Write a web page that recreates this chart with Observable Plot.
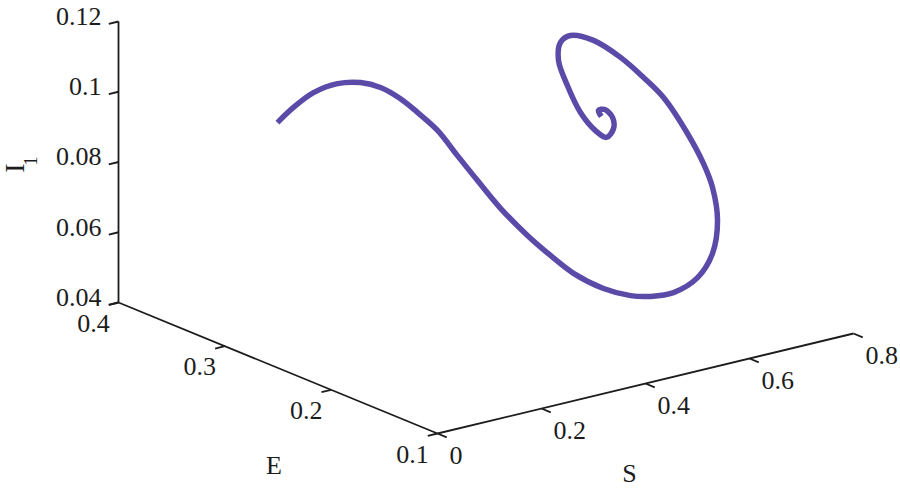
<!DOCTYPE html>
<html><head><meta charset="utf-8">
<script src="https://cdn.jsdelivr.net/npm/d3@7"></script>
<script src="https://cdn.jsdelivr.net/npm/@observablehq/plot@0.6"></script>
<style>body{margin:0;background:#fff}#chart svg{display:block}</style>
</head><body><div id="chart"></div>
<script>
// trajectory (S, E, I1)
const S  = [0.2035,0.2138,0.2319,0.2575,0.2813,0.2994,0.3173,0.3296,0.3477,0.3656,0.3837,0.4075,0.4388,0.4627,0.4865,0.5237,0.5552,0.5835,0.6175,0.6637,0.6925,0.7123,0.7129,0.7058,0.6852,0.6596,0.6313,0.5973,0.5556,0.5215,0.5065,0.5027,0.5158,0.5367,0.5594,0.5744,0.5879,0.5881,0.5746,0.5631,0.5688];
const E  = [0.35,0.34,0.33,0.32,0.31,0.30,0.29,0.28,0.27,0.26,0.25,0.24,0.23,0.22,0.21,0.20,0.19,0.185,0.18,0.18,0.18,0.185,0.19,0.195,0.20,0.21,0.215,0.22,0.225,0.23,0.232,0.232,0.23,0.228,0.225,0.222,0.222,0.223,0.224,0.224,0.224];
const I1 = [0.0902,0.0954,0.1002,0.1031,0.1038,0.1030,0.1004,0.0973,0.0928,0.0862,0.0797,0.0722,0.0646,0.0593,0.0546,0.0502,0.0483,0.0477,0.0482,0.0508,0.0567,0.0647,0.0735,0.0799,0.0886,0.0985,0.1046,0.1109,0.1166,0.1186,0.1169,0.1119,0.1045,0.0964,0.0908,0.0887,0.0907,0.0938,0.0964,0.0965,0.0946];

const sTicks = [0, 0.2, 0.4, 0.6, 0.8];
const sTickLabels = ["0", "0.2", "0.4", "0.6", "0.8"];
const eTicks = [0.1, 0.2, 0.3, 0.4];
const eTickLabels = ["0.1", "0.2", "0.3", "0.4"];
const iTicks = [0.04, 0.06, 0.08, 0.1, 0.12];
const iTickLabels = ["0.04", "0.06", "0.08", "0.1", "0.12"];
const sDom = [0, 0.8], eDom = [0.1, 0.4], iDom = [0.04, 0.12];

// 3-D view: screen position of the box corner and of each axis span
const origin = [437, 433];
const sVec = [416, -100], eVec = [-319, -131], iVec = [0, -281];
function proj(s, e, i) {
  const a = (s - sDom[0]) / (sDom[1] - sDom[0]);
  const b = (e - eDom[0]) / (eDom[1] - eDom[0]);
  const c = (i - iDom[0]) / (iDom[1] - iDom[0]);
  return [origin[0] + a*sVec[0] + b*eVec[0] + c*iVec[0],
          origin[1] + a*sVec[1] + b*eVec[1] + c*iVec[1]];
}
const TL = 10;
const nS = Math.hypot(sVec[0], sVec[1]), nE = Math.hypot(eVec[0], eVec[1]);
const tickOutS = [-sVec[0]/nS*TL, -sVec[1]/nS*TL]; // for E and I ticks
const tickOutE = [-eVec[0]/nE*TL, -eVec[1]/nE*TL]; // for S ticks

const traj = S.map((s, k) => ({s, e: E[k], i: I1[k]}));
const axes = [
  {a: [sDom[0], eDom[0], iDom[0]], b: [sDom[1], eDom[0], iDom[0]]},
  {a: [sDom[0], eDom[0], iDom[0]], b: [sDom[0], eDom[1], iDom[0]]},
  {a: [sDom[0], eDom[1], iDom[0]], b: [sDom[0], eDom[1], iDom[1]]}
];
const ticks = [
  ...sTicks.map((v, k) => ({p: proj(v, eDom[0], iDom[0]), o: tickOutE, label: sTickLabels[k], axis: "S"})),
  ...eTicks.map((v, k) => ({p: proj(sDom[0], v, iDom[0]), o: tickOutS, label: eTickLabels[k], axis: "E"})),
  ...iTicks.map((v, k) => ({p: proj(sDom[0], eDom[1], v), o: tickOutS, label: iTickLabels[k], axis: "I"}))
];
const ink = "#1c1c1c";
const font = "'Liberation Serif', 'Times New Roman', serif";
const FS = 26;

const chart = Plot.plot({
  width: 900, height: 488, margin: 0,
  style: {fontFamily: font, background: "#fff", color: ink},
  x: {domain: [0, 900], range: [0, 900], axis: null},
  y: {domain: [0, 488], range: [0, 488], axis: null},
  marks: [
    Plot.link(axes, {x1: d => proj(...d.a)[0], y1: d => proj(...d.a)[1], x2: d => proj(...d.b)[0], y2: d => proj(...d.b)[1], stroke: ink, strokeWidth: 1.8}),
    Plot.link(ticks, {x1: d => d.p[0], y1: d => d.p[1], x2: d => d.p[0] + d.o[0], y2: d => d.p[1] + d.o[1], stroke: ink, strokeWidth: 1.8}),
    Plot.text(ticks.filter(d => d.axis === "I"), {x: d => d.p[0], y: d => d.p[1], text: "label", textAnchor: "end", dx: -17, dy: -5, fontSize: FS, fill: ink, fontFamily: font}),
    Plot.text(ticks.filter(d => d.axis === "E"), {x: d => d.p[0], y: d => d.p[1], text: "label", textAnchor: "middle", dx: -25, dy: 21, fontSize: FS, fill: ink, fontFamily: font}),
    Plot.text(ticks.filter(d => d.axis === "S"), {x: d => d.p[0], y: d => d.p[1], text: "label", textAnchor: "start", dx: 12, dy: 22, fontSize: FS, fill: ink, fontFamily: font}),
    Plot.text(["S"], {x: () => proj(0.4, eDom[0], iDom[0])[0], y: () => proj(0.4, eDom[0], iDom[0])[1], text: d => d, dx: -16, dy: 90, fontSize: FS, fill: ink, fontFamily: font}),
    Plot.text(["E"], {x: () => proj(sDom[0], 0.25, iDom[0])[0], y: () => proj(sDom[0], 0.25, iDom[0])[1], text: d => d, dx: -4, dy: 98, fontSize: FS, fill: ink, fontFamily: font}),
    Plot.text(["I"], {x: () => proj(sDom[0], eDom[1], 0.08)[0], y: () => proj(sDom[0], eDom[1], 0.08)[1], text: d => d, rotate: -90, dx: -103, dy: 6, fontSize: 28, fill: ink, fontFamily: font}),
    Plot.text(["1"], {x: () => proj(sDom[0], eDom[1], 0.08)[0], y: () => proj(sDom[0], eDom[1], 0.08)[1], text: d => d, rotate: -90, dx: -88, dy: -1, fontSize: 19, fill: ink, fontFamily: font}),
    Plot.line(traj, {x: d => proj(d.s, d.e, d.i)[0], y: d => proj(d.s, d.e, d.i)[1], stroke: "#5b4aa8", strokeWidth: 5.5, curve: "catmull-rom", strokeLinejoin: "round", strokeLinecap: "butt"})
  ]
});
document.getElementById("chart").append(chart);
</script>
</body></html>
